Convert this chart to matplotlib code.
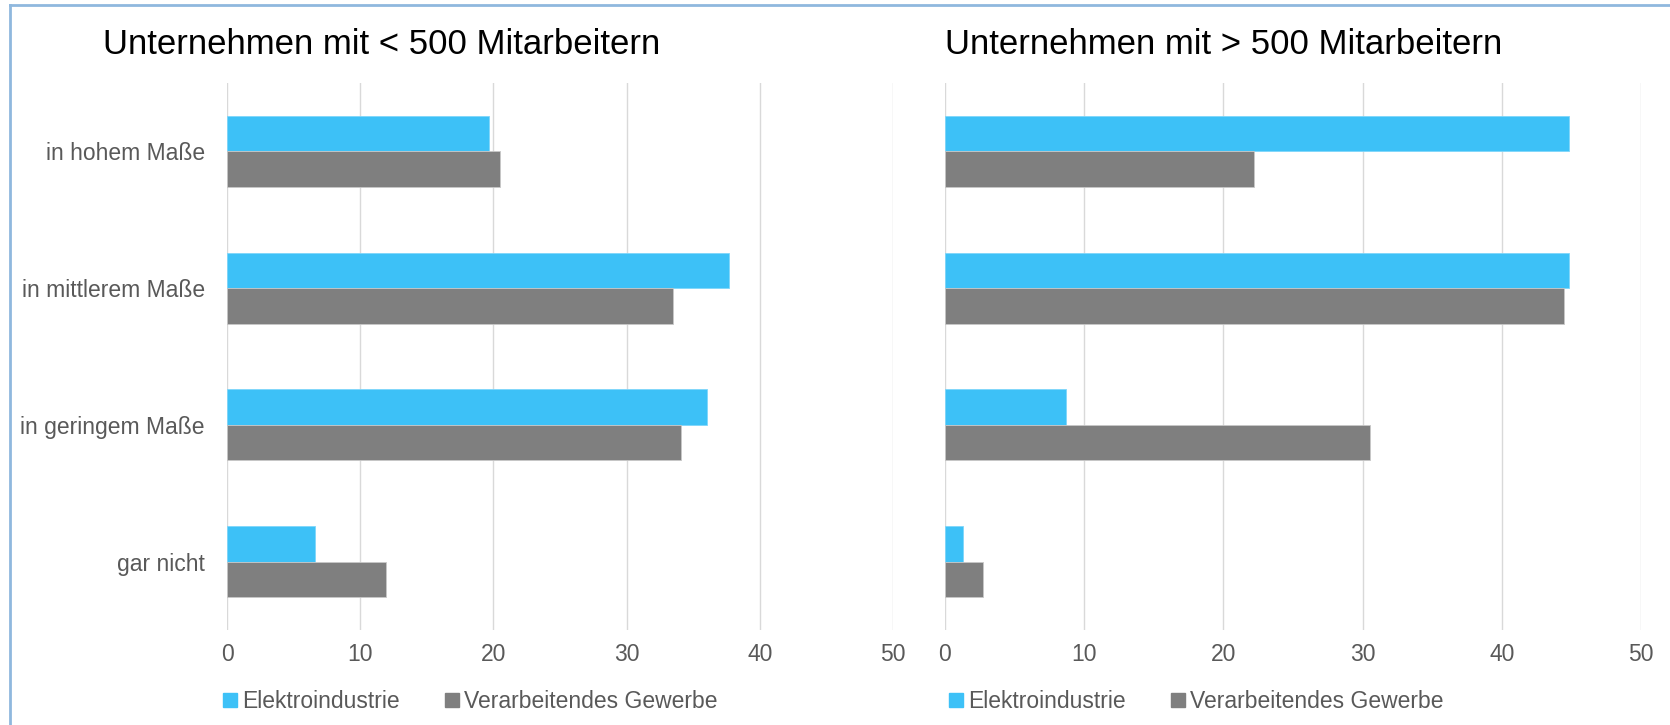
import numpy as np
import matplotlib
matplotlib.use("Agg")
from matplotlib import pyplot as plt
from matplotlib.lines import Line2D

plt.rcParams['font.family'] = ['Liberation Sans', 'DejaVu Sans']

# data (percent)
categories = ["in hohem Maße", "in mittlerem Maße", "in geringem Maße", "gar nicht"]
series_names = ["Elektroindustrie", "Verarbeitendes Gewerbe"]
small_elektro = [19.7, 37.7, 36.0, 6.6]
small_gewerbe = [20.5, 33.5, 34.1, 11.9]
large_elektro = [44.8, 44.8, 8.7, 1.3]
large_gewerbe = [22.2, 44.5, 30.5, 2.7]
titles = ["Unternehmen mit < 500 Mitarbeitern", "Unternehmen mit > 500 Mitarbeitern"]
xticks = [0, 10, 20, 30, 40, 50]

BLUE = "#3DC1F7"
GREY = "#7F7F7F"
TXT = "#595959"
FS = 16.5

fig = plt.figure(figsize=(16.7, 7.25), dpi=100)

ax1 = fig.add_axes([227 / 1670, 0.131, 666 / 1670, 0.7545])
ax2 = fig.add_axes([945 / 1670, 0.131, 696 / 1670, 0.7545])

y = np.arange(len(categories))
h = 0.26

for ax, el, gw, show_labels in [(ax1, small_elektro, small_gewerbe, True),
                                (ax2, large_elektro, large_gewerbe, False)]:
    ax.barh(y - h / 2, el, height=h, color=BLUE, edgecolor="#7fd6fa", linewidth=0.6, zorder=3)
    ax.barh(y + h / 2, gw, height=h, color=GREY, edgecolor="#c8c8c8", linewidth=0.6, zorder=3)
    ax.set_xlim(0, 50)
    ax.set_ylim(len(categories) - 0.5, -0.5)
    ax.set_xticks(xticks)
    ax.set_xticklabels([str(t) for t in xticks], fontsize=FS, color=TXT)
    ax.set_yticks(y)
    if show_labels:
        ax.set_yticklabels(categories, fontsize=FS, color=TXT)
    else:
        ax.set_yticklabels([])
    ax.tick_params(axis="both", length=0)
    ax.tick_params(axis="x", pad=9)
    ax.tick_params(axis="y", pad=16)
    ax.grid(axis="x", color="#D9D9D9", linewidth=1, zorder=0)
    for s in ax.spines.values():
        s.set_visible(False)

# titles
fig.text(103 / 1670, 1 - 45 / 725, titles[0], fontsize=25, color="black", va="center", ha="left")
fig.text(945 / 1670, 1 - 45 / 725, titles[1], fontsize=25, color="black", va="center", ha="left")

# legends
handles = [Line2D([], [], marker="s", linestyle="none", markersize=10, color=BLUE),
           Line2D([], [], marker="s", linestyle="none", markersize=10, color=GREY)]
for cx in [471 / 1670, 1197 / 1670]:
    fig.legend(handles, series_names, loc="center", bbox_to_anchor=(cx, 1 - 702 / 725),
               ncol=2, frameon=False, fontsize=FS, labelcolor=TXT,
               handlelength=0.5, handletextpad=0.3, columnspacing=2.0)

# thin light-blue frame (left and top edges visible)
fig.add_artist(Line2D([10 / 1670, 10 / 1670], [0, 1 - 5 / 725], color="#8FB8DE", linewidth=2))
fig.add_artist(Line2D([10 / 1670, 1], [1 - 5 / 725, 1 - 5 / 725], color="#8FB8DE", linewidth=2))

fig.savefig("out.png", dpi=100)
